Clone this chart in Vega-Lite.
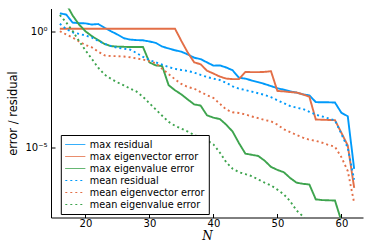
{
  "$schema": "https://vega.github.io/schema/vega-lite/v6.json",
  "width": 312,
  "height": 209,
  "autosize": {"type": "none"},
  "padding": {"left": 51, "top": 8.5, "right": 11, "bottom": 31.5},
  "background": "white",
  "config": {
    "view": {"stroke": null},
    "font": "DejaVu Sans",
    "axis": {"domainColor": "#000", "tickColor": "#000", "labelColor": "#000", "titleColor": "#000", "grid": false, "labelFontSize": 10, "labelFont": "DejaVu Sans", "titleFontWeight": "normal"}
  },
  "data": {"values": [
    {"N":16,"max residual":6.166,"max eigenvector error":1.349,"max eigenvalue error":39.81,"mean residual":2.188,"mean eigenvector error":1.047,"mean eigenvalue error":5.248},
    {"N":17,"max residual":5.495,"max eigenvector error":1.349,"max eigenvalue error":15.85,"mean residual":1.318,"mean eigenvector error":0.7586,"mean eigenvalue error":2.512},
    {"N":18,"max residual":2.455,"max eigenvector error":1.349,"max eigenvalue error":5.012,"mean residual":0.9333,"mean eigenvector error":0.5623,"mean eigenvalue error":1.072},
    {"N":19,"max residual":2.344,"max eigenvector error":1.349,"max eigenvalue error":2.042,"mean residual":0.8128,"mean eigenvector error":0.3802,"mean eigenvalue error":0.3981},
    {"N":20,"max residual":2.291,"max eigenvector error":1.349,"max eigenvalue error":1.047,"mean residual":0.6918,"mean eigenvector error":0.2692,"mean eigenvalue error":0.1585},
    {"N":21,"max residual":2.042,"max eigenvector error":1.349,"max eigenvalue error":0.6457,"mean residual":0.5623,"mean eigenvector error":0.2138,"mean eigenvalue error":0.06761},
    {"N":22,"max residual":2.138,"max eigenvector error":1.349,"max eigenvalue error":0.4365,"mean residual":0.3981,"mean eigenvector error":0.138,"mean eigenvalue error":0.02818},
    {"N":23,"max residual":1.479,"max eigenvector error":1.349,"max eigenvalue error":0.2951,"mean residual":0.302,"mean eigenvector error":0.0955,"mean eigenvalue error":0.01413},
    {"N":24,"max residual":1.047,"max eigenvector error":1.349,"max eigenvalue error":0.2399,"mean residual":0.2399,"mean eigenvector error":0.08913,"mean eigenvalue error":0.009333},
    {"N":25,"max residual":0.7586,"max eigenvector error":1.349,"max eigenvalue error":0.2291,"mean residual":0.2042,"mean eigenvector error":0.08913,"mean eigenvalue error":0.006607},
    {"N":26,"max residual":0.5248,"max eigenvector error":1.349,"max eigenvalue error":0.2239,"mean residual":0.1862,"mean eigenvector error":0.08511,"mean eigenvalue error":0.004898},
    {"N":27,"max residual":0.4571,"max eigenvector error":1.349,"max eigenvalue error":0.2188,"mean residual":0.1698,"mean eigenvector error":0.07943,"mean eigenvalue error":0.003548},
    {"N":28,"max residual":0.4365,"max eigenvector error":1.349,"max eigenvalue error":0.2188,"mean residual":0.1202,"mean eigenvector error":0.07079,"mean eigenvalue error":0.00263},
    {"N":29,"max residual":0.4266,"max eigenvector error":1.349,"max eigenvalue error":0.2188,"mean residual":0.08318,"mean eigenvector error":0.0631,"mean eigenvalue error":0.001585},
    {"N":30,"max residual":0.3802,"max eigenvector error":1.349,"max eigenvalue error":0.04786,"mean residual":0.06026,"mean eigenvector error":0.0537,"mean eigenvalue error":8.318e-4},
    {"N":31,"max residual":0.3311,"max eigenvector error":1.349,"max eigenvalue error":0.03548,"mean residual":0.04786,"mean eigenvector error":0.04365,"mean eigenvalue error":4.467e-4},
    {"N":32,"max residual":0.2291,"max eigenvector error":1.349,"max eigenvalue error":0.03311,"mean residual":0.03802,"mean eigenvector error":0.02512,"mean eigenvalue error":2.399e-4},
    {"N":33,"max residual":0.1905,"max eigenvector error":1.349,"max eigenvalue error":0.005012,"mean residual":0.0302,"mean eigenvector error":0.01514,"mean eigenvalue error":1.318e-4},
    {"N":34,"max residual":0.1585,"max eigenvector error":1.349,"max eigenvalue error":0.00302,"mean residual":0.02512,"mean eigenvector error":0.008913,"mean eigenvalue error":8.913e-5},
    {"N":35,"max residual":0.138,"max eigenvector error":0.3981,"max eigenvalue error":0.001995,"mean residual":0.02239,"mean eigenvector error":0.005623,"mean eigenvalue error":6.761e-5},
    {"N":36,"max residual":0.1047,"max eigenvector error":0.1259,"max eigenvalue error":0.001202,"mean residual":0.02042,"mean eigenvector error":0.004169,"mean eigenvalue error":5.012e-5},
    {"N":37,"max residual":0.07586,"max eigenvector error":0.04786,"max eigenvalue error":7.413e-4,"mean residual":0.01738,"mean eigenvector error":0.003548,"mean eigenvalue error":3.548e-5},
    {"N":38,"max residual":0.06607,"max eigenvector error":0.03981,"max eigenvalue error":6.607e-4,"mean residual":0.0138,"mean eigenvector error":0.002512,"mean eigenvalue error":2.818e-5},
    {"N":39,"max residual":0.04786,"max eigenvector error":0.02089,"max eigenvalue error":2.512e-4,"mean residual":0.01122,"mean eigenvector error":0.001862,"mean eigenvalue error":2.089e-5},
    {"N":40,"max residual":0.03467,"max eigenvector error":0.01585,"max eigenvalue error":1.995e-4,"mean residual":0.00955,"mean eigenvector error":0.001413,"mean eigenvalue error":1.413e-5},
    {"N":41,"max residual":0.03548,"max eigenvector error":0.01175,"max eigenvalue error":1.738e-4,"mean residual":0.008318,"mean eigenvector error":7.943e-4,"mean eigenvalue error":6.31e-6},
    {"N":42,"max residual":0.02884,"max eigenvector error":0.00955,"max eigenvalue error":1e-4,"mean residual":0.00631,"mean eigenvector error":4.467e-4,"mean eigenvalue error":2.399e-6},
    {"N":43,"max residual":0.02188,"max eigenvector error":0.00912,"max eigenvalue error":5.012e-5,"mean residual":0.004467,"mean eigenvector error":3.388e-4,"mean eigenvalue error":1.259e-6},
    {"N":44,"max residual":0.01047,"max eigenvector error":0.00912,"max eigenvalue error":1.585e-5,"mean residual":0.003548,"mean eigenvector error":3.162e-4,"mean eigenvalue error":8.913e-7},
    {"N":45,"max residual":0.00955,"max eigenvector error":0.01862,"max eigenvalue error":5.623e-6,"mean residual":0.00309,"mean eigenvector error":2.754e-4,"mean eigenvalue error":7.413e-7},
    {"N":46,"max residual":0.007943,"max eigenvector error":0.0182,"max eigenvalue error":5.012e-6,"mean residual":0.00263,"mean eigenvector error":2.239e-4,"mean eigenvalue error":6.026e-7},
    {"N":47,"max residual":0.006761,"max eigenvector error":0.0182,"max eigenvalue error":4.467e-6,"mean residual":0.002239,"mean eigenvector error":1.905e-4,"mean eigenvalue error":4.365e-7},
    {"N":48,"max residual":0.005623,"max eigenvector error":0.01862,"max eigenvalue error":2.818e-6,"mean residual":0.001905,"mean eigenvector error":1.585e-4,"mean eigenvalue error":3.162e-7},
    {"N":49,"max residual":0.004571,"max eigenvector error":0.01995,"max eigenvalue error":1.514e-6,"mean residual":0.001514,"mean eigenvector error":1.38e-4,"mean eigenvalue error":2.399e-7},
    {"N":50,"max residual":0.003715,"max eigenvector error":0.002818,"max eigenvalue error":1.122e-6,"mean residual":0.001122,"mean eigenvector error":1e-4,"mean eigenvalue error":1.585e-7},
    {"N":51,"max residual":0.003162,"max eigenvector error":0.002692,"max eigenvalue error":8.913e-7,"mean residual":8.318e-4,"mean eigenvector error":6.31e-5,"mean eigenvalue error":1e-7},
    {"N":52,"max residual":0.002692,"max eigenvector error":0.002512,"max eigenvalue error":5.012e-7,"mean residual":6.31e-4,"mean eigenvector error":4.786e-5,"mean eigenvalue error":5.012e-8},
    {"N":53,"max residual":0.002399,"max eigenvector error":0.002399,"max eigenvalue error":3.162e-7,"mean residual":5.37e-4,"mean eigenvector error":3.548e-5,"mean eigenvalue error":1.995e-8},
    {"N":54,"max residual":0.001995,"max eigenvector error":0.001995,"max eigenvalue error":2.818e-7,"mean residual":4.677e-4,"mean eigenvector error":2.754e-5,"mean eigenvalue error":1.122e-8},
    {"N":55,"max residual":0.00182,"max eigenvector error":0.001585,"max eigenvalue error":2.63e-7,"mean residual":3.548e-4,"mean eigenvector error":2.239e-5,"mean eigenvalue error":5.012e-9},
    {"N":56,"max residual":9.333e-4,"max eigenvector error":1.66e-4,"max eigenvalue error":6.026e-8,"mean residual":2.692e-4,"mean eigenvector error":1.995e-5,"mean eigenvalue error":2.512e-9},
    {"N":57,"max residual":9.12e-4,"max eigenvector error":1.622e-4,"max eigenvalue error":5.623e-8,"mean residual":2.239e-4,"mean eigenvector error":1.66e-5,"mean eigenvalue error":1.259e-9},
    {"N":58,"max residual":9.12e-4,"max eigenvector error":1.585e-4,"max eigenvalue error":5.495e-8,"mean residual":1.862e-4,"mean eigenvector error":1.318e-5,"mean eigenvalue error":6.31e-10},
    {"N":59,"max residual":8.913e-4,"max eigenvector error":1.549e-4,"max eigenvalue error":5.37e-8,"mean residual":1.514e-4,"mean eigenvector error":1.122e-5,"mean eigenvalue error":3.162e-10},
    {"N":60,"max residual":3.236e-4,"max eigenvector error":4.467e-5,"max eigenvalue error":7.079e-9,"mean residual":3.981e-5,"mean eigenvector error":3.981e-6,"mean eigenvalue error":1.585e-10},
    {"N":61,"max residual":2.291e-4,"max eigenvector error":1.259e-5,"max eigenvalue error":2.512e-9,"mean residual":1e-5,"mean eigenvector error":1e-6,"mean eigenvalue error":7.943e-11},
    {"N":62,"max residual":1.23e-6,"max eigenvector error":1.905e-7,"max eigenvalue error":1e-9,"mean residual":4.266e-7,"mean eigenvector error":4.266e-8,"mean eigenvalue error":3.981e-11}
  ]},
  "transform": [
    {"fold": ["max residual", "max eigenvector error", "max eigenvalue error", "mean residual", "mean eigenvector error", "mean eigenvalue error"], "as": ["series", "value"]}
  ],
  "mark": {"type": "line", "clip": true, "strokeWidth": 1.9},
  "encoding": {
    "x": {
      "field": "N", "type": "quantitative",
      "scale": {"domain": [14.62, 63.38], "nice": false, "zero": false},
      "axis": {"values": [20, 30, 40, 50, 60], "title": "N", "titleFont": "DejaVu Serif", "titleFontStyle": "italic", "titleFontSize": 12, "titlePadding": 2, "tickSize": -4, "labelPadding": 5, "labelFlush": false}
    },
    "y": {
      "field": "value", "type": "quantitative",
      "scale": {"type": "log", "domain": [1e-8, 10], "nice": false},
      "axis": {"values": [1, 1e-5], "labelExpr": "datum.value > 0.5 ? '10⁰' : '10⁻⁵'", "title": "error / residual", "titleFontSize": 11.5, "titlePadding": 6, "tickSize": -4, "labelPadding": 8}
    },
    "color": {
      "field": "series", "type": "nominal",
      "scale": {"domain": ["max residual", "max eigenvector error", "max eigenvalue error", "mean residual", "mean eigenvector error", "mean eigenvalue error"], "range": ["#009AFA", "#E36F47", "#3EA44E", "#009AFA", "#E36F47", "#3EA44E"]},
      "legend": {"orient": "none", "legendX": 9.8, "legendY": 126.5, "title": null, "symbolType": "M-1,0H3", "symbolSize": 100, "symbolStrokeWidth": 1, "labelFontSize": 9.7, "labelOffset": 14, "padding": 4, "fillColor": "white", "strokeColor": "black", "rowPadding": 1, "labelColor": "#000"}
    },
    "strokeDash": {
      "field": "series", "type": "nominal",
      "scale": {"domain": ["max residual", "max eigenvector error", "max eigenvalue error", "mean residual", "mean eigenvector error", "mean eigenvalue error"], "range": [[1, 0], [1, 0], [1, 0], [2, 3], [2, 3], [2, 3]]},
      "legend": {"orient": "none", "legendX": 9.8, "legendY": 126.5, "title": null, "symbolType": "M-1,0H3", "symbolSize": 100, "symbolStrokeWidth": 1, "labelFontSize": 9.7, "labelOffset": 14, "padding": 4, "fillColor": "white", "strokeColor": "black", "rowPadding": 1, "labelColor": "#000"}
    }
  }
}
